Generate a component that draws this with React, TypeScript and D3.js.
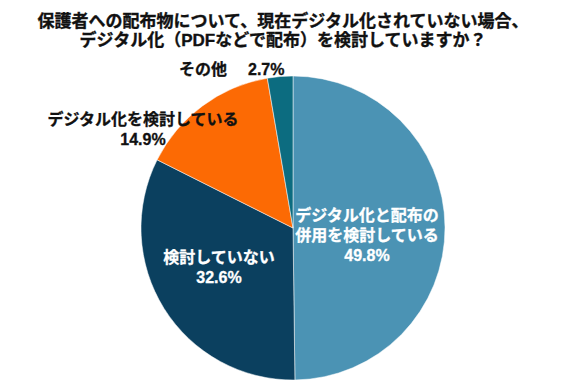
import React from "react";
import * as d3 from "d3";

const categories = ["デジタル化と配布の併用を検討している", "検討していない", "デジタル化を検討している", "その他"];
const values = [49.8, 32.6, 14.9, 2.7];
const colors = ["#4b93b4", "#0b405f", "#fc6a04", "#0c6c80"];
const labelLines = [
  ["デジタル化と配布の", "併用を検討している", "49.8%"],
  ["検討していない", "32.6%"],
  ["デジタル化を検討している", "14.9%"],
];
const otherName = "その他";
const otherValue = "2.7%";
const labelColors = ["#fff", "#fff", "#111"];
const titleLines = ["保護者への配布物について、現在デジタル化されていない場合、", "デジタル化（PDFなどで配布）を検討していますか？"];

export default function App() {
  const W = 562, H = 388;
  const cx = 293, cy = 228, r = 152;
  const pie = d3.pie<number>().sort(null).value((d) => d);
  const arcs = pie(values);
  const arc = d3.arc<d3.PieArcDatum<number>>().innerRadius(0).outerRadius(r);
  const labelPos: [number, number][] = [
    [367, 221],
    [219, 263],
    [143, 125],
  ];
  const font = "'Liberation Sans', 'Noto Sans CJK JP', sans-serif";
  return (
    <svg width={W} height={H} style={{ position: "absolute", left: 0, top: 0, background: "#fff" }} fontFamily={font}>
      {titleLines.map((t, i) => (
        <text key={i} x={283} y={27 + i * 19} textAnchor="middle" fontSize={17} fontWeight="bold" fill="#111" stroke="#111" strokeWidth={0.35}>
          {t}
        </text>
      ))}
      <g transform={`translate(${cx},${cy})`}>
        {arcs.map((a, i) => (
          <path key={i} d={arc(a) || ""} fill={colors[i]} stroke="#fff" strokeWidth={0.5} />
        ))}
      </g>
      {labelLines.map((lines, i) => (
        <text key={i} textAnchor="middle" fontSize={16} fontWeight="bold" fill={labelColors[i]} stroke={labelColors[i]} strokeWidth={0.3}>
          {lines.map((l, j) => (
            <tspan key={j} x={labelPos[i][0]} y={labelPos[i][1] + j * 20}>
              {l}
            </tspan>
          ))}
        </text>
      ))}
      <text x={203} y={75} textAnchor="middle" fontSize={16} fontWeight="bold" fill="#111" stroke="#111" strokeWidth={0.3}>
        {otherName}
      </text>
      <text x={248} y={75} textAnchor="start" fontSize={16} fontWeight="bold" fill="#111" stroke="#111" strokeWidth={0.3}>
        {otherValue}
      </text>
    </svg>
  );
}
